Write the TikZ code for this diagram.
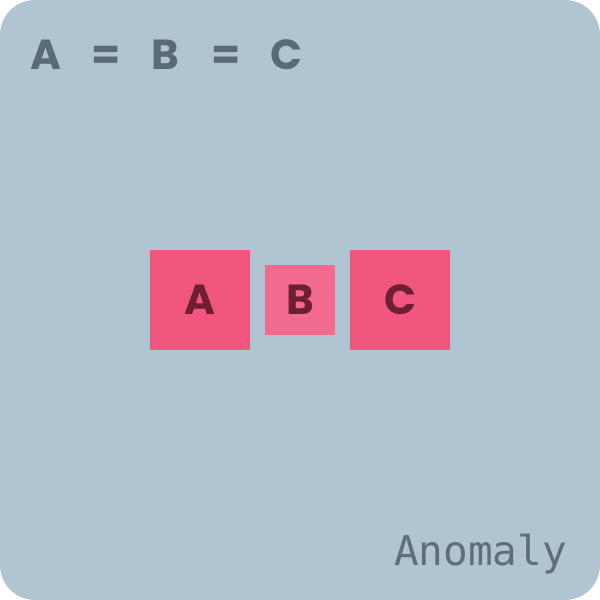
\documentclass[tikz,border=0pt]{standalone}
\usepackage{fontspec}
\newfontfamily\popb[Scale=1]{Poppins}[UprightFont=* Bold]
\newfontfamily\monof{DejaVu Sans Mono}
\definecolor{bg}{HTML}{B0C4D2}
\definecolor{titlec}{HTML}{5A6A78}
\definecolor{boxc}{HTML}{F0567E}
\definecolor{boxl}{HTML}{F26A8E}
\definecolor{letc}{HTML}{6E1F31}
\definecolor{labc}{HTML}{5E6E7A}
\tikzset{
  ttl/.style={font=\popb\fontsize{42}{42}\selectfont, text=titlec, inner sep=0pt, anchor=base},
  sq/.style={fill=boxc, draw=none, minimum size=100pt, inner sep=0pt, font=\popb\fontsize{42}{42}\selectfont, text=letc},
  sqs/.style={fill=boxl, draw=none, minimum size=70pt, inner sep=0pt, font=\popb\fontsize{42}{42}\selectfont, text=letc},
}
\begin{document}
\begin{tikzpicture}[x=1pt,y=-1pt]
\useasboundingbox (0,0) rectangle (600,600);
\fill[bg, rounded corners=35pt] (0,0) rectangle (600,600);
\node[ttl] (t1) at (46,69) {A};
\node[ttl] (t2) at (106,69) {=};
\node[ttl] (t3) at (165,69) {B};
\node[ttl] (t4) at (226,69) {=};
\node[ttl] (t5) at (286,69) {C};
\node[sq] (a) at (200,300) {A};
\node[sqs] (b) at (300,300) {B};
\node[sq] (c) at (400,300) {C};
\node[font=\monof\fontsize{41}{41}\selectfont, text=labc, anchor=base east, inner sep=0pt] (lab) at (567,565) {Anomaly};
\end{tikzpicture}
\end{document}
